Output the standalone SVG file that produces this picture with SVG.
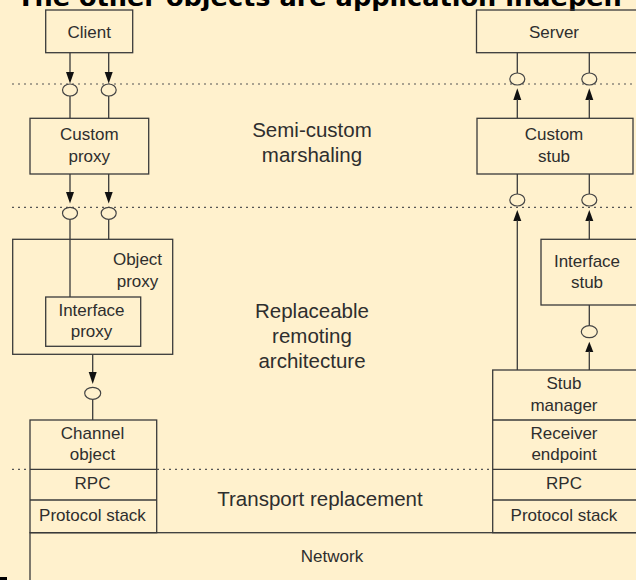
<svg xmlns="http://www.w3.org/2000/svg" width="636" height="580" viewBox="0 0 636 580">
<style>
.bg{fill:#FFF1CD}
.box{fill:none;stroke:#3a3a3a;stroke-width:1.3}
.ln{stroke:#3a3a3a;stroke-width:1.3;fill:none}
.dot{stroke:#555;stroke-width:1.2;stroke-dasharray:2 4;fill:none}
.ah{fill:#111}
.ci{fill:#FFF1CD;stroke:#444;stroke-width:1.2}
.t{font-family:"Liberation Sans",Arial,sans-serif;font-size:17px;fill:#2e2e2e;text-anchor:middle}
.lbl{font-size:20.5px}
.h{font-family:"DejaVu Sans",Verdana,sans-serif;font-weight:bold;font-size:25.6px;fill:#000}
</style>
<rect class="bg" x="0" y="0" width="636" height="580"/>
<text class="h" x="17" y="6">The other objects are application indepen</text>
<rect x="0" y="577" width="7" height="3" fill="#000"/>

<g id="dividers">
<line class="dot" x1="12" y1="84" x2="636" y2="84"/>
<line class="dot" x1="12" y1="207.3" x2="636" y2="207.3"/>
<line class="dot" x1="12" y1="469.3" x2="30" y2="469.3"/>
<line class="dot" x1="157" y1="469.3" x2="492" y2="469.3"/>
</g>

<g id="labels">
<text class="t lbl" x="312" y="136.7">Semi-custom</text>
<text class="t lbl" x="312" y="161.5">marshaling</text>
<text class="t lbl" x="312" y="318.3">Replaceable</text>
<text class="t lbl" x="312" y="343.3">remoting</text>
<text class="t lbl" x="312" y="368.3">architecture</text>
<text class="t lbl" x="320" y="506">Transport replacement</text>
</g>

<g id="connectors">
<!-- left top -->
<line class="ln" x1="70" y1="52.7" x2="70" y2="73"/>
<polygon class="ah" points="66,72 74,72 70,83.5"/>
<line class="ln" x1="70" y1="96" x2="70" y2="118.3"/>
<line class="ln" x1="108.7" y1="52.7" x2="108.7" y2="73"/>
<polygon class="ah" points="104.7,72 112.7,72 108.7,83.5"/>
<line class="ln" x1="108.7" y1="96" x2="108.7" y2="118.3"/>
<!-- left mid -->
<line class="ln" x1="70" y1="174" x2="70" y2="193"/>
<polygon class="ah" points="66,192 74,192 70,203.5"/>
<line class="ln" x1="70" y1="219.3" x2="70" y2="297"/>
<line class="ln" x1="108.7" y1="174" x2="108.7" y2="193"/>
<polygon class="ah" points="104.7,192 112.7,192 108.7,203.5"/>
<line class="ln" x1="108.7" y1="219.3" x2="108.7" y2="239.3"/>
<!-- left low -->
<line class="ln" x1="92.7" y1="354.3" x2="92.7" y2="373"/>
<polygon class="ah" points="88.7,372 96.7,372 92.7,384"/>
<line class="ln" x1="92.7" y1="399.3" x2="92.7" y2="420"/>
<!-- right top -->
<line class="ln" x1="517.3" y1="52.7" x2="517.3" y2="73"/>
<polygon class="ah" points="513.3,100 521.3,100 517.3,88.3"/>
<line class="ln" x1="517.3" y1="99" x2="517.3" y2="118.3"/>
<line class="ln" x1="589.3" y1="52.7" x2="589.3" y2="73"/>
<polygon class="ah" points="585.3,100 593.3,100 589.3,88.3"/>
<line class="ln" x1="589.3" y1="99" x2="589.3" y2="118.3"/>
<!-- right mid -->
<line class="ln" x1="517.3" y1="174" x2="517.3" y2="194.5"/>
<polygon class="ah" points="513.3,221 521.3,221 517.3,210"/>
<line class="ln" x1="517.3" y1="220" x2="517.3" y2="370"/>
<line class="ln" x1="589.3" y1="174" x2="589.3" y2="194.5"/>
<polygon class="ah" points="585.3,221 593.3,221 589.3,210"/>
<line class="ln" x1="589.3" y1="220" x2="589.3" y2="239.3"/>
<!-- right low -->
<line class="ln" x1="589.3" y1="305" x2="589.3" y2="325.7"/>
<polygon class="ah" points="585.3,352 593.3,352 589.3,341.7"/>
<line class="ln" x1="589.3" y1="351" x2="589.3" y2="370"/>
<!-- interface circles -->
<ellipse class="ci" cx="70" cy="90" rx="7.5" ry="6"/>
<ellipse class="ci" cx="108.7" cy="90" rx="7.5" ry="6"/>
<ellipse class="ci" cx="70" cy="213.3" rx="7.5" ry="6"/>
<ellipse class="ci" cx="108.7" cy="213.3" rx="7.5" ry="6"/>
<ellipse class="ci" cx="92.7" cy="393.3" rx="8" ry="6"/>
<ellipse class="ci" cx="517.3" cy="79" rx="7.5" ry="6"/>
<ellipse class="ci" cx="589.3" cy="79" rx="7.5" ry="6"/>
<ellipse class="ci" cx="517.3" cy="200" rx="7.5" ry="6"/>
<ellipse class="ci" cx="589.3" cy="200" rx="7.5" ry="6"/>
<ellipse class="ci" cx="589.3" cy="331.7" rx="8" ry="6"/>
</g>

<g id="client">
<rect class="box" x="45.7" y="10" width="87" height="42.7"/>
<text class="t" x="89.2" y="37.5">Client</text>
</g>
<g id="server">
<rect class="box" x="476.5" y="10" width="180" height="42.7"/>
<text class="t" x="554" y="37.5">Server</text>
</g>
<g id="custom-proxy">
<rect class="box" x="30" y="118.3" width="118.7" height="55.7"/>
<text class="t" x="89.3" y="139.5">Custom</text>
<text class="t" x="89.3" y="161.5">proxy</text>
</g>
<g id="custom-stub">
<rect class="box" x="477" y="118.3" width="156" height="55.7"/>
<text class="t" x="554" y="139.5">Custom</text>
<text class="t" x="554" y="161.5">stub</text>
</g>
<g id="object-proxy">
<rect class="box" x="12.7" y="239.3" width="160" height="115"/>
<text class="t" x="137.5" y="265">Object</text>
<text class="t" x="137.5" y="286.5">proxy</text>
</g>
<g id="interface-proxy">
<rect class="box" x="45.7" y="297" width="95" height="49.3"/>
<text class="t" x="91.5" y="316">Interface</text>
<text class="t" x="91.5" y="337">proxy</text>
</g>
<g id="interface-stub">
<rect class="box" x="541" y="239.3" width="120" height="65.7"/>
<text class="t" x="587" y="266.5">Interface</text>
<text class="t" x="587" y="288">stub</text>
</g>
<g id="channel-stack">
<rect class="box" x="30" y="420" width="126.7" height="112.7"/>
<line class="ln" x1="30" y1="469.3" x2="156.7" y2="469.3"/>
<line class="ln" x1="30" y1="500" x2="156.7" y2="500"/>
<text class="t" x="92.5" y="438.5">Channel</text>
<text class="t" x="92.5" y="459.5">object</text>
<text class="t" x="92.5" y="488.5">RPC</text>
<text class="t" x="92.5" y="520.5">Protocol stack</text>
</g>
<g id="stub-stack">
<rect class="box" x="492.7" y="370" width="170" height="162.7"/>
<line class="ln" x1="492.7" y1="420" x2="636" y2="420"/>
<line class="ln" x1="492.7" y1="469.3" x2="636" y2="469.3"/>
<line class="ln" x1="492.7" y1="500" x2="636" y2="500"/>
<text class="t" x="564" y="389.3">Stub</text>
<text class="t" x="564" y="410.5">manager</text>
<text class="t" x="564" y="438.5">Receiver</text>
<text class="t" x="564" y="459.5">endpoint</text>
<text class="t" x="564" y="488.5">RPC</text>
<text class="t" x="564" y="520.5">Protocol stack</text>
</g>
<g id="network">
<rect class="box" x="30" y="532.7" width="620" height="60"/>
<text class="t" x="332" y="561.5">Network</text>
</g>
</svg>
